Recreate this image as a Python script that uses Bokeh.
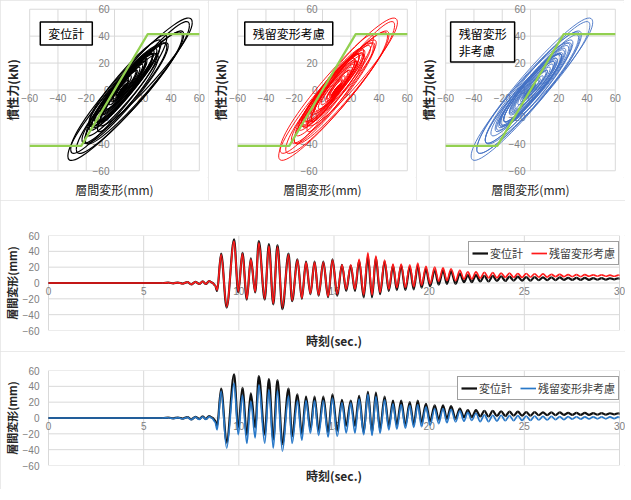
import numpy as np
from bokeh.plotting import figure
from bokeh.models import Range1d, LinearAxis, FixedTicker, Label, ColumnDataSource
from bokeh.layouts import column, row
from bokeh.embed import file_html
from bokeh.resources import INLINE

JP = "Noto Sans CJK JP"
NUM = "Liberation Sans"
GRID = "#d9d9d9"
TICKC = "#808080"

# ---------------- data (extrema) ----------------
t_ext = [0.0, 6.0, 6.3, 6.55, 6.8, 7.05, 7.3, 7.5, 7.72, 7.92, 8.1, 8.27, 8.44, 8.6, 8.75, 8.86,
         9.07, 9.36, 9.75, 9.97, 10.19, 10.42, 10.63, 10.86, 11.05, 11.36,
         11.58, 11.81, 12.03, 12.29, 12.61, 12.80, 13.08, 13.31, 13.53, 13.76,
         13.98, 14.19, 14.44, 14.69, 14.92, 15.17, 15.42, 15.64, 15.88, 16.10,
         16.32, 16.56, 16.78, 17.0, 17.2, 17.42, 17.66, 17.88, 18.1, 18.3,
         18.53, 18.75, 18.98, 19.19, 19.4, 19.6, 19.83, 20.05, 20.29, 20.5,
         20.73, 20.93, 21.15, 21.39, 21.61, 21.83, 22.03, 22.24, 22.46,
         22.68, 22.9, 23.12, 23.34, 23.56, 23.78, 24.0, 24.22, 24.44, 24.66,
         24.88, 25.1, 25.32, 25.54, 25.76, 25.98, 26.2, 26.42, 26.64, 26.86,
         27.08, 27.3, 27.52, 27.74, 27.96, 28.18, 28.4, 28.62, 28.84, 29.06,
         29.28, 29.5, 29.72, 29.94, 30.0]

disp_gauge = [0, 0, 0.5, -0.4, 0.6, -0.8, 1.2, -1.8, 1.5, -1.2, 2.0, -1.2, 2.5, 0.5, -3, -10,
              37, -31, 55, -12, 38, -21, 31, -12, 53, -21,
              49, -27, 48, -33, 37, -23, 30, -20, 27, -14,
              27, -16, 27, -18, 30, -16, 23, -10, 22, -10,
              28, -18, 33, -18, 32, -14, 27, -10, 22, -9,
              22, -9, 20, -8, 22, -6, 18, -4, 16, -2,
              16, -1, 15, -1, 12, 1, 10, 1, 10,
              2, 9, 2, 9, 2.5, 8.5, 2.5, 8, 3, 8,
              3, 7.5, 3, 7.5, 3.5, 7, 3.5, 7, 3.5, 7,
              4, 6.5, 4, 6.5, 4, 6.5, 4, 6.2, 4.2, 6.2,
              4.2, 6, 4.5, 6, 5.5]

disp_resid = [0, 0, 0.5, -0.4, 0.6, -0.8, 1.2, -1.8, 1.5, -1.2, 2.0, -1.2, 2.5, 0.5, -3, -9,
              36, -30, 53, -11, 37, -20, 30, -11, 51, -20,
              47, -26, 46, -31, 36, -22, 29, -19, 26, -13,
              26, -15, 26, -17, 29, -14, 23, -8, 23, -8,
              30, -15, 38, -15, 34, -12, 29, -8, 24, -6,
              24, -6, 23, -5, 25, -3, 21, -1, 20, 2,
              19, 3, 18, 3, 16, 5, 14, 5, 14,
              6, 13.5, 6.5, 13, 6.5, 12.5, 7, 12.5, 7, 12,
              7, 12, 7.5, 11.5, 7.5, 11.5, 7.5, 11, 8, 11,
              8, 10.5, 8, 10.5, 8, 10.5, 8.5, 10.2, 8.5, 10.2,
              8.5, 10, 8.5, 10, 9.5]

disp_nores = [0, 0, 0.3, -0.6, 0.4, -1.0, 0.8, -2.2, 1.0, -1.8, 1.5, -1.8, 1.8, -0.5, -5, -15,
              34, -38, 44, -21, 29, -32, 21, -25, 42, -32,
              36, -38, 35, -42, 28, -32, 22, -28, 22, -19,
              22, -22, 22, -24, 25, -23, 19, -19, 19, -19,
              24, -21, 30, -22, 27, -19, 23, -15, 18, -14,
              17, -13, 16, -12, 17, -11, 14, -9, 12, -7,
              12, -6, 11, -5, 9, -4, 7, -3, 6,
              -4.5, 4, -4.5, 3.5, -4, 3.5, -3.5, 3, -3.5, 3,
              -3, 2.5, -3, 2.5, -2.5, 2, -2.5, 2, -2, 1.8,
              -2, 1.8, -1.5, 1.6, -1.5, 1.5, -1.2, 1.5, -1, 1.4,
              -1, 1.3, -0.8, 1.3, 0.8]

force_inertia = [0, 0, 0.3, -0.7, 0.5, -1.1, 0.9, -2.5, 1.2, -2, 1.7, -2, 2, -0.6, -6, -17,
                 39, -44, 50, -24, 33, -37, 24, -29, 48, -37,
                 41, -44, 40, -49, 32, -37, 25, -32, 25, -22,
                 25, -25, 25, -28, 29, -26, 22, -22, 22, -22,
                 28, -24, 35, -25, 31, -22, 26, -17, 21, -16,
                 20, -15, 18, -14, 20, -13, 16, -10, 14, -8,
                 14, -7, 13, -6, 10, -5, 8, -3.5, 7,
                 -5, 4.5, -5, 4, -4.5, 4, -4, 3.5, -4, 3.5,
                 -3.5, 3, -3.5, 3, -3, 2.3, -3, 2.3, -2.3, 2,
                 -2.3, 2, -1.8, 1.8, -1.7, 1.7, -1.4, 1.7, -1.2, 1.6,
                 -1.2, 1.5, -1, 1.5, 0.9]

skeleton_x = [-60, -23.5, 23.5, 60]
skeleton_y = [-41.5, -41.5, 41.5, 41.5]

hyst_ticks = [-60, -40, -20, 0, 20, 40, 60]
time_ticks = [0, 5, 10, 15, 20, 25, 30]
disp_ticks = [-60, -40, -20, 0, 20, 40, 60]

name_gauge = "変位計"
name_resid = "残留変形考慮"
name_nores = "残留変形非考慮"
panel_titles = ["変位計", "残留変形考慮", "残留変形\n非考慮"]

# ---------------- styles ----------------
LOOP_K = 0.24   # loop opening (style of the drawn hysteresis branches)
CHART_BORDER = {"outline": "1px solid #e3e3e3", "outline-offset": "-1px"}

tick_style = dict(axis_line_color=None, major_tick_line_color=None, minor_tick_line_color=None,
                  major_tick_out=0, major_tick_in=0, minor_tick_out=0,
                  major_label_text_font=NUM, major_label_text_font_size="10px",
                  major_label_text_color=TICKC)


def label_axis(text, size, style, standoff):
    return LinearAxis(ticker=FixedTicker(ticks=[]), axis_label=text,
                      axis_line_color=None, major_tick_line_color=None,
                      minor_tick_line_color=None, major_tick_out=0, minor_tick_out=0,
                      axis_label_standoff=standoff, axis_label_text_font=JP,
                      axis_label_text_font_size=size, axis_label_text_font_style=style,
                      axis_label_text_color="#262626")


def grid_segments(p, xt, yt):
    nx, ny = len(xt), len(yt)
    p.segment(x0=xt, y0=[yt[0]] * nx, x1=xt, y1=[yt[-1]] * nx,
              line_color=GRID, line_width=1, level="image")
    p.segment(x0=[xt[0]] * ny, y0=yt, x1=[xt[-1]] * ny, y1=yt,
              line_color=GRID, line_width=1, level="image")


def hyst(disp, color, lw, title, bx, by):
    p = figure(frame_width=188, frame_height=175, min_border_left=17, min_border_right=0,
               min_border_top=2, min_border_bottom=21,
               x_range=Range1d(-66.5, 66.5), y_range=Range1d(-65, 65),
               x_axis_location=None, y_axis_location=None,
               toolbar_location=None, output_backend="svg", styles=CHART_BORDER)
    p.outline_line_color = None
    p.grid.visible = False
    grid_segments(p, hyst_ticks, hyst_ticks)
    ax = LinearAxis(fixed_location=0, ticker=FixedTicker(ticks=hyst_ticks),
                    major_label_standoff=4, **tick_style)
    ax.level = "underlay"
    p.add_layout(ax, "below")
    ay = LinearAxis(fixed_location=0, ticker=FixedTicker(ticks=hyst_ticks),
                    major_label_standoff=5, **tick_style)
    ay.level = "underlay"
    p.add_layout(ay, "left")
    p.add_layout(label_axis("層間変形(mm)", "12px", "normal", 3), "below")
    p.add_layout(label_axis("慣性力(kN)", "12px", "bold", 0), "left")

    d = np.array(disp, float)
    f = np.array(force_inertia, float)
    x0, y0, x1, y1 = d[:-1], f[:-1], d[1:], f[1:]
    dy = y1 - y0
    src = ColumnDataSource(dict(x0=x0, y0=y0, x1=x1, y1=y1,
                                cx0=x0, cy0=y0 + LOOP_K * dy,
                                cx1=x1, cy1=y1 + LOOP_K * dy))
    p.bezier(x0="x0", y0="y0", x1="x1", y1="y1", cx0="cx0", cy0="cy0",
             cx1="cx1", cy1="cy1", source=src, line_color=color, line_width=lw)
    p.line(skeleton_x, skeleton_y, line_color="#92d050", line_width=2.2)
    p.add_layout(Label(x=bx, y=by, text=title, text_align="left", text_baseline="top",
                       text_font=JP, text_font_size="12px", text_color="black",
                       text_line_height=1.0,
                       border_line_color="black", border_line_width=1.5,
                       background_fill_color="white", padding=(8, 3)))
    return p


def smooth_line(p, t, y, color, width, label):
    t = np.array(t, float)
    y = np.array(y, float)
    x0, y0, x1, y1 = t[:-1], y[:-1], t[1:], y[1:]
    dt = x1 - x0
    src = ColumnDataSource(dict(x0=x0, y0=y0, x1=x1, y1=y1,
                                cx0=x0 + dt / 3, cy0=y0, cx1=x1 - dt / 3, cy1=y1))
    p.bezier(x0="x0", y0="y0", x1="x1", y1="y1", cx0="cx0", cy0="cy0",
             cx1="cx1", cy1="cy1", source=src, line_color=color, line_width=width,
             legend_label=label)


def ts(series2, color2, name2, top, bottom):
    p = figure(frame_width=583, frame_height=95, min_border_left=32, min_border_right=0,
               min_border_top=top, min_border_bottom=bottom,
               x_range=Range1d(-0.315, 30.315), y_range=Range1d(-60, 60),
               x_axis_location=None, y_axis_location="left",
               toolbar_location=None, output_backend="svg", styles=CHART_BORDER)
    p.outline_line_color = None
    p.grid.visible = False
    grid_segments(p, time_ticks, disp_ticks)
    ya = p.yaxis[0]
    ya.ticker = FixedTicker(ticks=disp_ticks)
    ya.axis_line_color = None
    ya.major_tick_line_color = None
    ya.minor_tick_line_color = None
    ya.major_tick_out = 0
    ya.major_label_text_font = NUM
    ya.major_label_text_font_size = "10px"
    ya.major_label_text_color = TICKC
    ya.major_label_standoff = 3
    ya.axis_label = "層間変形(mm)"
    ya.axis_label_text_font = JP
    ya.axis_label_text_font_size = "11px"
    ya.axis_label_text_font_style = "bold"
    ya.axis_label_text_color = "#262626"
    ya.axis_label_standoff = 0
    ax = LinearAxis(fixed_location=0, ticker=FixedTicker(ticks=time_ticks),
                    major_label_standoff=4, **tick_style)
    ax.level = "underlay"
    p.add_layout(ax, "below")
    p.add_layout(label_axis("時刻(sec.)", "12px", "bold", 1), "below")

    smooth_line(p, t_ext, disp_gauge, "#111111", 2.2, name_gauge)
    smooth_line(p, t_ext, series2, color2, 1.7, name2)
    lg = p.legend[0]
    lg.orientation = "horizontal"
    lg.location = "top_right"
    lg.margin = 6
    lg.padding = 3
    lg.spacing = 8
    lg.glyph_width = 16
    lg.glyph_height = 10
    lg.label_standoff = 2
    lg.label_text_font = JP
    lg.label_text_font_size = "11px"
    lg.label_text_color = "#404040"
    lg.label_height = 12
    lg.border_line_color = "#404040"
    lg.border_line_width = 1.2
    lg.background_fill_alpha = 1
    return p


f1 = hyst(disp_gauge, "#000000", 1.2, panel_titles[0], -52.5, 50.5)
f2 = hyst(disp_resid, "#ff0000", 0.9, panel_titles[1], -55.0, 50.5)
f3 = hyst(disp_nores, "#4472c4", 0.9, panel_titles[2], -56.5, 50.5)
f4 = ts(disp_resid, "#ff1a1a", name_resid, 35, 18)
f5 = ts(disp_nores, "#2878c8", name_nores, 19, 24)

layout = column(row(f1, f2, f3), f4, f5)
open("out.html", "w").write(file_html(layout, INLINE))
